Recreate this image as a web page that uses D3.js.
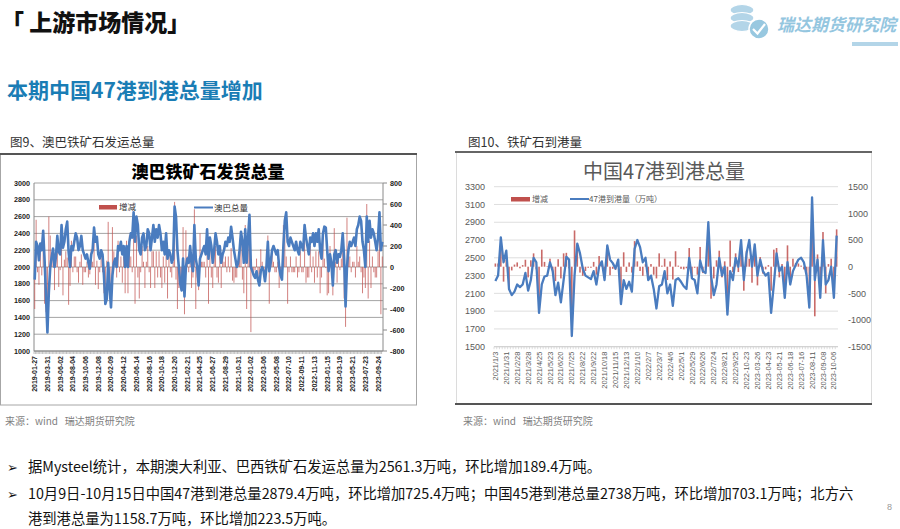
<!DOCTYPE html>
<html><head><meta charset="utf-8">
<script src="https://d3js.org/d3.v7.min.js"></script>
<style>body{margin:0;background:#fff}svg{display:block}text{white-space:pre}</style>
</head><body><svg id="s" width="900" height="529"></svg>
<script>
// ---------- DATA ----------
const leftTickLabels = ["2019-01-27","2019-03-31","2019-06-02","2019-08-04","2019-10-06","2019-12-08","2020-02-09","2020-04-12","2020-06-14","2020-08-16","2020-10-18","2020-12-20","2021-02-21","2021-04-25","2021-06-27","2021-08-29","2021-10-31","2022-01-02","2022-03-06","2022-05-08","2022-07-10","2022-09-11","2022-11-13","2023-01-15","2023-03-19","2023-05-21","2023-07-23","2023-09-24"];
const leftTotal = [
1850,2300,2250,2080,2280,2200,2430,2080,1650,
1220,1700,2000,2120,2220,2000,2120,2370,2180,
2150,2500,2230,2300,2450,2540,2180,2000,2250,
2200,2300,2400,2350,2200,2250,2370,2200,2150,
2100,2150,2050,1980,2150,2200,2470,2300,2360,
2150,2100,2200,2150,1900,1560,1620,2050,1750,
1520,1900,2050,2100,2000,2250,2200,2300,2150,
2250,2000,2250,2000,2300,2400,2350,2650,2300,
2600,2500,2200,2150,2350,2400,2200,2250,2450,
2400,2200,2350,2500,2300,2450,2350,2500,2400,
2200,2300,2150,2400,2100,2200,2150,2050,2100,
2720,2600,2200,2000,1800,1720,2100,1650,2000,
2100,2050,2250,2050,1950,2500,2100,2000,1780,
2100,2150,2200,2250,2150,2450,2100,2350,2250,
2050,2200,2400,2300,2150,2250,2050,2150,2200,
2300,2250,2350,2300,2480,2350,2200,2100,2000,
2050,2200,2420,2300,2050,2450,2050,2350,2620,
2000,1950,1900,1870,1950,1850,1780,1950,2000,
1950,1830,2000,2300,1950,2050,2200,2250,2200,
2150,2200,2000,1900,1850,2250,2550,2650,2300,
2250,2350,2300,2250,2200,2300,2200,2150,2300,
2250,2200,2500,2350,2250,2150,2350,2300,2400,
2250,2400,2300,2450,2200,2100,2400,2480,2470,
2200,1950,2150,2050,1780,2150,2200,2050,2150,
2120,2200,2400,2100,1530,2000,2200,2300,2250,
2300,2350,2250,2450,2500,2600,2550,2300,2200,
2000,2600,2300,2550,2350,2450,2400,2300,2200,
2350,2650,2200,2300];
const leftChange = [
-400,450,-50,-170,200,-80,230,-350,-430,
-430,480,300,120,100,-220,120,250,-190,
-30,350,-270,70,150,90,-360,-180,250,
-50,100,100,-50,-150,50,120,-170,-50,
-50,50,-100,-70,170,50,270,-170,60,
-210,-50,100,-50,-250,-340,60,430,-300,
-230,380,150,50,-100,250,-50,100,-150,
100,-250,250,-250,300,100,-50,300,-350,
300,-100,-300,-50,200,50,-200,50,200,
-50,-200,150,150,-200,150,-100,150,-100,
-200,100,-150,250,-300,100,-50,-100,50,
620,-120,-400,-200,-200,-80,380,-450,350,
100,-50,200,-200,-100,550,-400,-100,-220,
320,50,50,50,-100,300,-350,250,-100,
-200,150,200,-100,-150,100,-200,100,50,
100,-50,100,-50,180,-130,-150,-100,-100,
50,150,220,-120,-250,400,-400,300,270,
-620,-50,-50,-30,80,-100,-70,170,50,
-50,-120,170,300,-350,100,150,50,-50,
-50,50,-200,-100,-50,400,300,100,-350,
-50,100,-50,-50,-50,100,-100,-50,150,
-50,-50,300,-150,-100,-100,200,-50,100,
-150,150,-100,150,-250,-100,300,80,-10,
-270,-250,200,-100,-270,370,50,-150,100,
-30,80,200,-300,-570,470,200,100,-50,
50,50,-100,200,50,100,-50,-250,-100,
-200,600,-300,250,-200,100,-50,-100,-100,
150,300,-450,100];
const leftYTicks = [1000,1200,1400,1600,1800,2000,2200,2400,2600,2800,3000];
const leftRTicks = [-800,-600,-400,-200,0,200,400,600,800];

const rightTickLabels = ["2021/1/3","2021/1/31","2021/2/28","2021/3/28","2021/4/25","2021/5/23","2021/6/20","2021/7/25","2021/8/22","2021/9/22","2021/10/18","2021/11/15","2021/12/13","2022/1/10","2022/2/7","2022/3/7","2022/4/6","2022/5/1","2022/5/29","2022/6/26","2022/7/24","2022/8/21","2022/9/25","2022-10-23","2023-03-26","2023-04-23","2023-05-21","2023-06-18","2023-07-16","2023-08-11","2023-09-08","2023-10-06"];
const rightTotal = [
2240,2300,2730,2450,2580,2150,2080,2120,2200,2170,
2200,2330,2130,2250,2500,2450,1880,2200,2290,2300,
2450,2350,2080,2220,2000,2250,2510,2480,1620,2300,
2660,2550,2380,2300,2280,2260,2350,2200,2400,2460,
2250,2640,2480,2440,2380,2480,1980,2250,2150,2230,
2120,2600,2700,2620,2450,2500,2250,2300,2150,1930,
2180,2200,2350,2100,2200,1960,2250,2270,2230,2180,
2150,2500,2270,2250,2100,2470,2350,2330,2900,2300,
2080,2200,2500,2300,2400,1860,2350,2250,2500,2400,
2700,2250,2550,2700,2400,2650,2300,2480,2350,2300,
2330,1880,2200,2550,2350,2400,2050,2450,2200,2350,
2420,2480,2500,2450,2300,1940,3180,2250,2480,2050,
2700,2200,2250,2400,2050,2750];
const rightChange = [
60,60,430,-280,130,-430,-70,40,80,-30,
30,130,-200,120,250,-50,-570,320,90,10,
150,-100,-270,140,-220,250,260,-30,-860,680,
360,-110,-170,-80,-20,-20,90,-150,200,60,
-210,390,-160,-40,-60,100,-500,270,-100,80,
-110,480,100,-80,-170,50,-250,50,-150,-220,
250,20,150,-250,100,-240,290,20,-40,-50,
-30,350,-230,-20,-150,370,-120,-20,570,-600,
-220,120,300,-200,100,-540,490,-100,250,-100,
300,-450,300,150,-300,250,-350,180,-130,-50,
30,-450,320,350,-200,50,-350,400,-250,150,
70,60,20,-50,-150,-360,1240,-930,230,-430,
650,-500,50,150,-350,700];
const rightYTicks = [1500,1700,1900,2100,2300,2500,2700,2900,3100,3300];
const rightRTicks = [-1500,-1000,-500,0,500,1000,1500];

// ---------- DRAW ----------
const CJK = "'Noto Sans CJK SC','Noto Sans',sans-serif";
const LAT = "'Liberation Sans',Arial,sans-serif";
const svg = d3.select("#s");
const RED = "#c0504d", BLUE = "#4a7cbf";

// header
svg.append("text").attr("x",1).attr("y",31).attr("font-family",CJK).attr("font-weight",900)
  .attr("font-size",23).attr("fill","#111").text("「 上游市场情况」");
// logo
const lg = svg.append("g");
[[742,10],[742,18],[742,26]].forEach(([cx,cy])=>{
  lg.append("ellipse").attr("cx",cx).attr("cy",cy).attr("rx",12).attr("ry",5.5)
    .attr("fill","#b3d5e8").attr("stroke","#fff").attr("stroke-width",1.2);
});
lg.append("circle").attr("cx",759).attr("cy",29).attr("r",10).attr("fill","#98c8e0").attr("stroke","#fff").attr("stroke-width",1.5);
lg.append("path").attr("d","M753,29 L757.5,33.5 L765,24").attr("fill","none").attr("stroke","#fff").attr("stroke-width",2.2);
svg.append("text").attr("x",777).attr("y",31).attr("font-family",CJK).attr("font-weight",700)
  .attr("font-style","italic").attr("font-size",17).attr("fill","#94c6df").text("瑞达期货研究院");
svg.append("rect").attr("x",852).attr("y",42).attr("width",46).attr("height",4).attr("fill","#b3d5e8");

svg.append("text").attr("x",7).attr("y",98).attr("font-family",CJK).attr("font-weight",700)
  .attr("font-size",21).attr("fill","#1a7db5").text("本期中国47港到港总量增加");

// captions
svg.append("text").attr("x",10).attr("y",147).attr("font-family",CJK).attr("font-size",12.5).attr("fill","#333").text("图9、澳巴铁矿石发运总量");
svg.append("text").attr("x",468).attr("y",147).attr("font-family",CJK).attr("font-size",12.5).attr("fill","#333").text("图10、铁矿石到港量");

// frames
svg.append("rect").attr("x",0.5).attr("y",154).attr("width",416).attr("height",251).attr("fill","none").attr("stroke","#a6a6a6").attr("stroke-width",1);
svg.append("line").attr("x1",0).attr("x2",417).attr("y1",154).attr("y2",154).attr("stroke","#555").attr("stroke-width",2);
svg.append("line").attr("x1",456.5).attr("x2",456.5).attr("y1",152).attr("y2",404).attr("stroke","#dcdcdc");
svg.append("line").attr("x1",871.5).attr("x2",871.5).attr("y1",152).attr("y2",404).attr("stroke","#dcdcdc");
svg.append("line").attr("x1",455).attr("x2",872).attr("y1",152).attr("y2",152).attr("stroke","#666").attr("stroke-width",2);
svg.append("line").attr("x1",455).attr("x2",872).attr("y1",404).attr("y2",404).attr("stroke","#555").attr("stroke-width",2);

// ---------- LEFT CHART ----------
(function(){
  const x0=34,x1=383,yT=183,yB=351;
  const n = leftTotal.length;
  const x = d3.scaleBand().domain(d3.range(n)).range([x0,x1]);
  const cx = i => x(i)+x.bandwidth()/2;
  const yL = d3.scaleLinear().domain([1000,3000]).range([yB,yT]);
  const yR = d3.scaleLinear().domain([-800,800]).range([yB,yT]).clamp(true);
  const g = svg.append("g");
  g.selectAll(".gl").data(leftYTicks).join("line").attr("x1",x0).attr("x2",x1)
    .attr("y1",d=>yL(d)).attr("y2",d=>yL(d)).attr("stroke","#9a9a9a").attr("stroke-width",0.9);
  g.append("line").attr("x1",x0).attr("x2",x0).attr("y1",yT).attr("y2",yB).attr("stroke","#8a8a8a");
  g.append("line").attr("x1",x1).attr("x2",x1).attr("y1",yT).attr("y2",yB).attr("stroke","#8a8a8a");
  g.selectAll(".rt").data(leftRTicks).join("line").attr("x1",x1).attr("x2",x1+4)
    .attr("y1",d=>yR(d)).attr("y2",d=>yR(d)).attr("stroke","#8a8a8a");
  g.selectAll(".lt").data(leftYTicks).join("text").attr("x",x0-4).attr("y",d=>yL(d)).attr("dy","0.35em")
    .attr("text-anchor","end").attr("font-family",LAT).attr("font-weight",700).attr("font-size",7.2).attr("fill","#222").text(d=>d);
  g.selectAll(".rl").data(leftRTicks).join("text").attr("x",x1+7).attr("y",d=>yR(d)).attr("dy","0.35em")
    .attr("font-family",LAT).attr("font-weight",700).attr("font-size",7.2).attr("fill","#222").text(d=>d);
  g.selectAll(".ct").data(d3.range(n)).join("line").attr("x1",d=>x(d)).attr("x2",d=>x(d))
    .attr("y1",yB).attr("y2",yB+3).attr("stroke","#999").attr("stroke-width",0.6);
  g.append("line").attr("x1",x0).attr("x2",x1).attr("y1",yB).attr("y2",yB).attr("stroke","#8a8a8a");
  g.selectAll(".bar").data(leftChange).join("rect")
    .attr("x",(d,i)=>cx(i)-0.5).attr("width",1)
    .attr("y",d=>yR(Math.max(0,d))).attr("height",d=>Math.abs(yR(d)-yR(0)))
    .attr("fill",RED).attr("opacity",0.72);
  g.append("path").datum(leftTotal).attr("fill","none").attr("stroke",BLUE).attr("stroke-width",2.6)
    .attr("stroke-linejoin","round")
    .attr("d",d3.line().x((d,i)=>cx(i)).y(d=>yL(d)));
  leftTickLabels.forEach((t,k)=>{
    g.append("text").attr("transform",`translate(${cx(k*9)},${yB+5}) rotate(-90)`)
      .attr("text-anchor","end").attr("dy","0.35em").attr("font-family",LAT).attr("font-weight",700)
      .attr("font-size",7).attr("fill","#222").text(t);
  });
  g.append("text").attr("x",208).attr("y",178).attr("text-anchor","middle").attr("font-family",CJK)
    .attr("font-weight",900).attr("font-size",17).attr("fill","#000").text("澳巴铁矿石发货总量");
  g.append("rect").attr("x",99).attr("y",205).attr("width",18).attr("height",4.5).attr("fill",RED);
  g.append("text").attr("x",119).attr("y",210).attr("font-family",CJK).attr("font-size",8.5).attr("fill","#333").text("增减");
  g.append("line").attr("x1",194).attr("x2",213).attr("y1",207.5).attr("y2",207.5).attr("stroke",BLUE).attr("stroke-width",2);
  g.append("text").attr("x",214).attr("y",210.5).attr("font-family",CJK).attr("font-size",8.5).attr("fill","#333").text("澳巴总量");
})();

// ---------- RIGHT CHART ----------
(function(){
  const x0=494,x1=838,yT=186.7,yB=346.7;
  const n = rightTotal.length;
  const x = d3.scaleBand().domain(d3.range(n)).range([x0,x1]);
  const cx = i => x(i)+x.bandwidth()/2;
  const yL = d3.scaleLinear().domain([1500,3300]).range([yB,yT]);
  const yR = d3.scaleLinear().domain([-1500,1500]).range([yB,yT]).clamp(true);
  const g = svg.append("g");
  g.selectAll(".gl").data(rightYTicks).join("line").attr("x1",x0).attr("x2",x1)
    .attr("y1",d=>yL(d)).attr("y2",d=>yL(d)).attr("stroke","#dadada").attr("stroke-width",0.9);
  g.selectAll(".ct").data(d3.range(n)).join("line").attr("x1",d=>x(d)).attr("x2",d=>x(d))
    .attr("y1",yB).attr("y2",yB+2.5).attr("stroke","#c8c8c8").attr("stroke-width",0.6);
  g.append("line").attr("x1",x0).attr("x2",x1).attr("y1",yB).attr("y2",yB).attr("stroke","#cfcfcf");
  g.selectAll(".lt").data(rightYTicks).join("text").attr("x",x0-9).attr("y",d=>yL(d)).attr("dy","0.35em")
    .attr("text-anchor","end").attr("font-family",LAT).attr("font-size",9).attr("fill","#595959").text(d=>d);
  g.selectAll(".rl").data(rightRTicks).join("text").attr("x",x1+10).attr("y",d=>yR(d)).attr("dy","0.35em")
    .attr("font-family",LAT).attr("font-size",9).attr("fill","#595959").text(d=>d);
  g.selectAll(".bar").data(rightChange).join("rect")
    .attr("x",(d,i)=>cx(i)-0.8).attr("width",1.6)
    .attr("y",d=>yR(Math.max(0,d))).attr("height",d=>Math.abs(yR(d)-yR(0)))
    .attr("fill",RED).attr("opacity",0.85);
  g.append("path").datum(rightTotal).attr("fill","none").attr("stroke",BLUE).attr("stroke-width",2.3)
    .attr("stroke-linejoin","round")
    .attr("d",d3.line().x((d,i)=>cx(i)).y(d=>yL(d)));
  rightTickLabels.forEach((t,k)=>{
    g.append("text").attr("transform",`translate(${cx(k*4)},${yB+5}) rotate(-90)`)
      .attr("text-anchor","end").attr("dy","0.35em").attr("font-family",LAT)
      .attr("font-size",7.4).attr("fill","#595959").text(t);
  });
  g.append("text").attr("x",664).attr("y",179).attr("text-anchor","middle").attr("font-family",CJK)
    .attr("font-size",20).attr("fill","#595959").text("中国47港到港总量");
  g.append("rect").attr("x",511).attr("y",197).attr("width",19).attr("height",4.5).attr("fill",RED);
  g.append("text").attr("x",532).attr("y",202).attr("font-family",CJK).attr("font-size",8).attr("fill","#595959").text("增减");
  g.append("line").attr("x1",570).attr("x2",589).attr("y1",199).attr("y2",199).attr("stroke",BLUE).attr("stroke-width",2);
  g.append("text").attr("x",589).attr("y",202).attr("font-family",CJK).attr("font-size",8).attr("fill","#595959").text("47港到港量（万吨）");
})();

// sources
svg.append("text").attr("x",5).attr("y",425).attr("font-family",CJK).attr("font-size",10).attr("fill","#7f7f7f").text("来源：wind   瑞达期货研究院");
svg.append("text").attr("x",463).attr("y",425).attr("font-family",CJK).attr("font-size",10).attr("fill","#7f7f7f").text("来源：wind   瑞达期货研究院");

// bullets
const bullets = [
  [472, true, "据Mysteel统计，本期澳大利亚、巴西铁矿石发运总量为2561.3万吨，环比增加189.4万吨。"],
  [499, true, "10月9日-10月15日中国47港到港总量2879.4万吨，环比增加725.4万吨；中国45港到港总量2738万吨，环比增加703.1万吨；北方六"],
  [524, false, "港到港总量为1158.7万吨，环比增加223.5万吨。"]
];
bullets.forEach(([y,arrow,t])=>{
  if(arrow) svg.append("text").attr("x",7).attr("y",y).attr("font-family","'DejaVu Sans',sans-serif").attr("font-size",13).attr("fill","#111").text("➢");
  svg.append("text").attr("x",28).attr("y",y).attr("font-family",CJK).attr("font-size",14.3).attr("fill","#111").text(t);
});
svg.append("text").attr("x",887).attr("y",510).attr("font-family",LAT).attr("font-size",9).attr("fill","#999").text("8");
</script></body></html>
